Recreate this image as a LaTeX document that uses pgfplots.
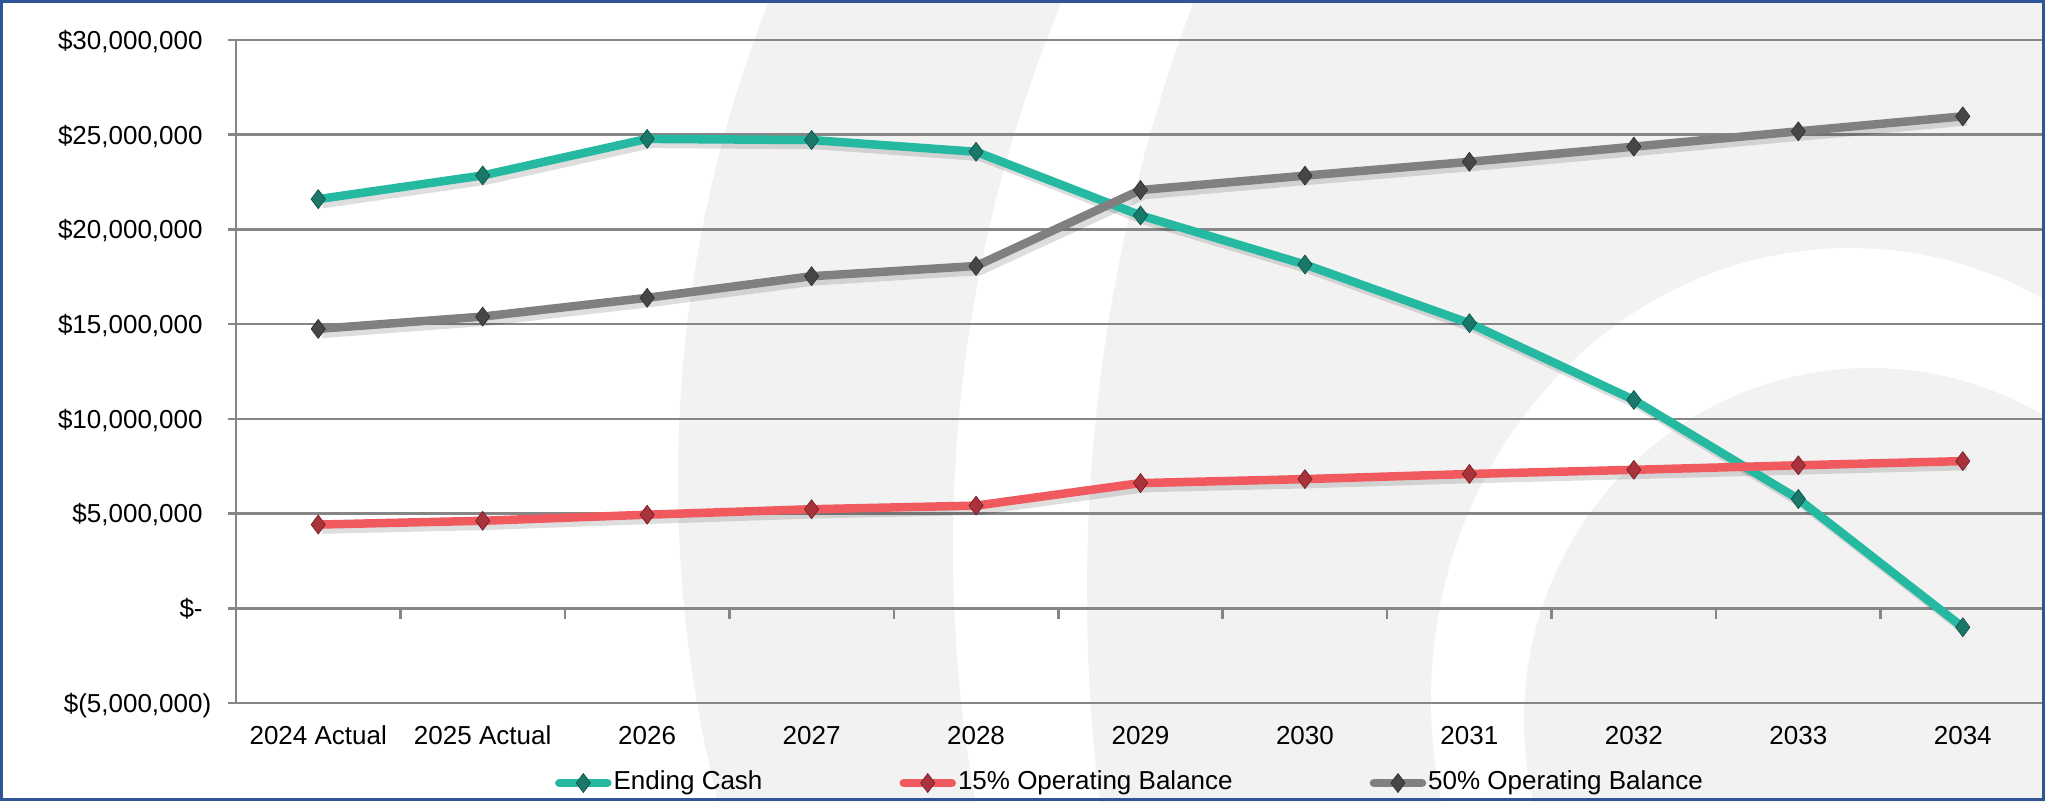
\documentclass[border=0pt]{standalone}
\usepackage{fontspec}
\setmainfont{Liberation Sans}
\usepackage{pgfplots}
\usepackage{pgfplotstable}
\pgfplotsset{compat=1.18}
\definecolor{cteal}{RGB}{37,185,162}
\definecolor{ctealD}{RGB}{25,120,106}
\definecolor{cred}{RGB}{240,90,95}
\definecolor{credD}{RGB}{170,50,58}
\definecolor{cgray}{RGB}{128,128,128}
\definecolor{cgrayD}{RGB}{70,70,70}
\definecolor{wm}{RGB}{242,242,242}
\definecolor{gridc}{RGB}{134,134,134}
\definecolor{frame}{RGB}{47,85,151}

\pgfplotstableread{
x cash op15 op50
0 21600000 4420000 14750000
1 22850000 4620000 15400000
2 24780000 4940000 16390000
3 24720000 5230000 17530000
4 24100000 5420000 18070000
5 20740000 6610000 22080000
6 18150000 6820000 22840000
7 15050000 7090000 23570000
8 11000000 7310000 24370000
9 5770000 7550000 25180000
10 -1000000 7770000 25970000
}\datatable

\begin{document}
\begin{tikzpicture}
\useasboundingbox (0mm,0mm) rectangle (204.5mm,80.1mm);
% background watermark
\begin{scope}
\clip (0mm,0mm) rectangle (204.5mm,80.1mm);
\fill[white] (0mm,0mm) rectangle (204.5mm,80.1mm);
\fill[wm] (197.8mm,32.1mm) circle (130mm);
\fill[white] (237.3mm,25.3mm) circle (142mm);
\fill[wm] (276.7mm,20.9mm) circle (168mm);
\fill[white] (185.0mm,10.1mm) ellipse (41.9mm and 45.2mm);
\fill[wm] (187.0mm,8.1mm) ellipse (34.6mm and 35.2mm);
\end{scope}
\begin{axis}[
  at={(23.6mm,9.8mm)}, anchor=south west,
  scale only axis, width=180.9mm, height=66.3mm,
  xmin=-0.5, xmax=10.5,
  ymin=-5000000, ymax=30000000,
  clip=false,
  axis lines*=left,
  axis line style={gridc, line width=0.25mm},
  tick style={draw=none}, major tick length=0pt,
  scaled y ticks=false,
  xtick={0,1,2,3,4,5,6,7,8,9,10},
  xticklabels={2024 Actual,2025 Actual,2026,2027,2028,2029,2030,2031,2032,2033,2034},
  ytick={-5000000,0,5000000,10000000,15000000,20000000,25000000,30000000},
  yticklabels={{\$(5,000,000)},{\$-\phantom{)}},{\$5,000,000\phantom{)}},{\$10,000,000\phantom{)}},{\$15,000,000\phantom{)}},{\$20,000,000\phantom{)}},{\$25,000,000\phantom{)}},{\$30,000,000\phantom{)}}},
  ymajorgrids,
  major grid style={gridc, line width=0.25mm},
  every tick label/.append style={font=\fontsize{7.4pt}{8.9pt}\selectfont},
  xticklabel style={anchor=base, inner sep=0pt, yshift=-4.16mm},
  yticklabel style={anchor=base east, inner sep=0pt, xshift=-2.4mm, yshift=-2.65pt},
  legend columns=3,
  legend style={at={(axis description cs:0.4942,-0.1207)}, anchor=center,
    draw=none, fill=none, inner sep=0pt,
    font=\fontsize{7.4pt}{8.9pt}\selectfont,
    /tikz/every even column/.append style={column sep=13.5mm},
    nodes={inner sep=0.2mm}},
  legend image code/.code={\draw[mark repeat=2,mark phase=2,#1,line cap=round] plot coordinates {(0mm,0mm) (2.4mm,0mm) (4.8mm,0mm)};},
]
% tick marks
\pgfplotsinvokeforeach{0,1,2,3,4,5,6,7,8,9,10}{
  \draw[gridc, line width=0.25mm] (axis cs:#1+0.5,0) -- ++(0pt,-1.1mm);
}
\pgfplotsinvokeforeach{-5,0,5,10,15,20,25,30}{
  \draw[gridc, line width=0.25mm] (axis cs:-0.5,#1000000) -- ++(-0.75mm,0pt);
}
% shadows
\addplot[forget plot, black, opacity=0.13, line width=0.85mm, line join=round, no marks, xshift=0.4mm, yshift=-0.5mm] table[x=x,y=cash] {\datatable};
\addplot[forget plot, black, opacity=0.13, line width=0.85mm, line join=round, no marks, xshift=0.4mm, yshift=-0.5mm] table[x=x,y=op15] {\datatable};
\addplot[forget plot, black, opacity=0.13, line width=0.85mm, line join=round, no marks, xshift=0.4mm, yshift=-0.5mm] table[x=x,y=op50] {\datatable};
% series
\addplot[cteal, line width=0.85mm, line join=round, mark=diamond*, mark size=0.95mm,
  mark options={solid, line width=0.2pt, fill=ctealD, draw=ctealD!70!black}] table[x=x,y=cash] {\datatable};
\addlegendentry{Ending Cash}
\addplot[cred, line width=0.85mm, line join=round, mark=diamond*, mark size=0.95mm,
  mark options={solid, line width=0.2pt, fill=credD, draw=credD!70!black}] table[x=x,y=op15] {\datatable};
\addlegendentry{15\% Operating Balance}
\addplot[cgray, line width=0.85mm, line join=round, mark=diamond*, mark size=0.95mm,
  mark options={solid, line width=0.2pt, fill=cgrayD, draw=cgrayD!70!black}] table[x=x,y=op50] {\datatable};
\addlegendentry{50\% Operating Balance}
\end{axis}
\draw[frame, line width=0.25mm] (0.15mm,0.15mm) rectangle (204.35mm,79.95mm);
\end{tikzpicture}
\end{document}
